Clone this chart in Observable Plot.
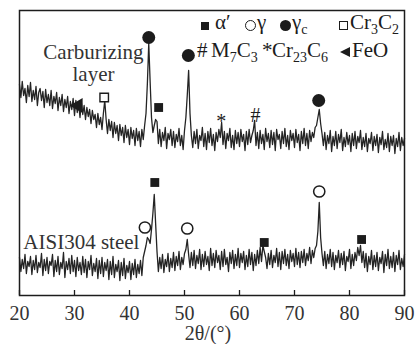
<!DOCTYPE html>
<html><head><meta charset="utf-8">
<script src="https://cdn.jsdelivr.net/npm/d3@7"></script>
<script src="https://cdn.jsdelivr.net/npm/@observablehq/plot@0.6"></script>
<style>
body{margin:0;background:#fff;}
#wrap{position:relative;width:416px;height:344px;font-family:"Liberation Serif","Tinos","Times New Roman","DejaVu Serif","Noto Serif",serif;color:#1c1c1c;}
#wrap svg{display:block;}
#wrap svg text{font-family:"Liberation Serif","Tinos","Times New Roman","DejaVu Serif","Noto Serif",serif;}
.lg{position:absolute;font-size:21px;line-height:21px;white-space:nowrap;}
.lg .s{font-size:14px;position:relative;top:5px;}
.sym{position:absolute;box-sizing:border-box;}
</style></head><body>
<div id="wrap"></div>
<script>
// 2θ grid of the scanned patterns
const thetaStart = 20, thetaStep = 0.25;
// Carburizing layer intensity (a.u.), one value per 0.25° from 20° to 90°
const carburizing = [
211,198,214,200, 207,193,210,199, 213,194,205,196, 209,190,203,207, 195,204,188,206,
193,201,190,205, 187,199,192,203, 185,198,190,201, 184,196,188,199, 182,194,186,197,
180,195,183,192, 178,193,181,190, 176,188,179,186, 172,185,176,181, 168,182,171,178,
166,182,195,176, 162,176,165,174, 158,173,162,170, 155,171,160,168, 153,170,158,166,
151,168,157,165, 150,167,155,164, 149,166,156,170, 182,212,252,214, 178,163,170,176,
174,152,166,149, 163,155,168,147, 162,156,166,150, 164,148,161,154, 167,150,160,146,
165,178,200,225, 182,160,148,164, 152,166,147,160, 155,168,149,162, 146,164,153,167,
150,161,145,163, 154,166,158,173, 151,164,147,162, 155,167,148,160, 146,165,152,163,
149,166,154,161, 145,164,151,166, 153,160,165,175, 150,163,147,165, 152,161,146,167,
154,162,148,165, 151,163,145,166, 156,161,147,164, 152,167,149,160, 146,165,155,162,
148,166,153,161, 145,164,152,167, 150,162,147,165, 154,163,158,168, 170,178,186,172,
162,150,163,146, 160,152,165,144, 159,150,164,147, 161,153,166,145, 158,149,163,151,
160,144,162,150, 164,147,159,153, 165,146,158,149, 162,144,157,152, 163,145,159,150,
161,143,158,151, 164,146,156,148, 162,144,159,150, 160,142,157,149, 163,145,158,150,
157];
// AISI304 steel intensity (a.u.)
const steel = [
38,24,36,27, 41,22,34,29, 39,21,35,26, 40,23,33,28, 42,20,36,25,
38,22,34,30, 41,19,35,24, 39,21,33,27, 43,18,34,26, 37,22,40,24,
35,19,38,25, 33,21,39,23, 36,18,34,26, 40,20,32,24, 37,17,35,22,
38,19,33,25, 36,16,34,21, 39,18,31,24, 35,15,33,20, 37,17,30,23,
34,16,32,21, 36,18,31,22, 35,20,38,44, 50,58,56,52, 66,82,101,72,
44,24,38,27, 41,23,36,29, 42,24,37,28, 43,25,39,30, 44,26,38,31,
42,46,56,41, 28,43,30,45, 27,40,32,46, 26,41,29,44, 31,39,25,47,
30,42,28,45, 33,40,26,44, 29,46,31,38, 24,43,32,45, 27,41,30,47,
28,42,33,44, 26,40,29,46, 31,43,25,41, 30,45,32,48, 34,50,44,38,
27,42,31,45, 28,40,33,47, 29,43,26,44, 32,46,30,41, 27,45,34,42,
29,47,31,43, 28,44,33,46, 30,42,35,48, 32,45,38,47, 50,64,93,58,
42,30,44,27, 41,32,46,29, 43,26,40,33, 45,28,42,31, 44,25,39,34,
46,27,41,30, 43,35,48,40, 50,33,44,28, 42,24,39,31, 45,26,40,29,
43,25,38,32, 44,23,41,30, 46,27,39,28, 43,24,40,31, 45,26,37,29,
41];
// phase markers
const markPhase = ["γc","α′","γc","γc","Cr3C2","FeO","γ","α′","γ","α′","γ","α′"];
const markTheta = [43.5,45.3,50.7,74.4,35.4,30.7,42.8,44.6,50.5,64.5,74.5,82.2];
const markInt   = [258,188,240,195,198,190,68,113,67,53,104,56];
const glyphText  = ["*","#"];
const glyphTheta = [56.7,62.9];
const glyphInt   = [174,180];
// curve labels
const labelText  = ["Carburizing","layer","AISI304 steel"];
const labelTheta = [33.45,33.45,20.7];
const labelInt   = [243.7,221.7,53.7];
const labelAnchor= ["middle","middle","start"];
const xTicks = [20,30,40,50,60,70,80,90];
const xTitle = "2θ/(°)";

const rows = [];
carburizing.forEach((v,i)=>rows.push({t:thetaStart+i*thetaStep, v, s:"carb"}));
steel.forEach((v,i)=>rows.push({t:thetaStart+i*thetaStep, v, s:"steel"}));
const marks = markPhase.map((p,i)=>({p, t:markTheta[i], v:markInt[i]}));
const glyphs = glyphText.map((g,i)=>({g, t:glyphTheta[i], v:glyphInt[i]}));
const labels = labelText.map((s,i)=>({s, t:labelTheta[i], v:labelInt[i], a:labelAnchor[i]}));
const ink = "#1c1c1c";
const serif = "'Liberation Serif', 'Tinos', 'Times New Roman', 'DejaVu Serif', 'Noto Serif', serif";

const chart = Plot.plot({
  width:416, height:344,
  marginTop:10, marginRight:12, marginBottom:49, marginLeft:19,
  style:{fontFamily:serif, fontSize:"20px", color:ink, background:"#fff"},
  x:{domain:[20,90]},
  y:{domain:[0,285], axis:null},
  marks:[
    Plot.line(rows,{x:"t", y:"v", z:"s", stroke:"#242424", strokeWidth:1.3}),
    Plot.dot(marks.filter(d=>d.p==="γc"),{x:"t", y:"v", r:6.5, fill:ink, stroke:"none", symbol:"circle"}),
    Plot.dot(marks.filter(d=>d.p==="γ"),{x:"t", y:"v", r:5.6, fill:"#fff", stroke:ink, strokeWidth:1.5, symbol:"circle"}),
    Plot.dot(marks.filter(d=>d.p==="α′"),{x:"t", y:"v", r:5, fill:ink, stroke:"none", symbol:"square"}),
    Plot.dot(marks.filter(d=>d.p==="Cr3C2"),{x:"t", y:"v", r:4.8, fill:"#fff", stroke:ink, strokeWidth:1.4, symbol:"square"}),
    Plot.dot(marks.filter(d=>d.p==="FeO"),{x:"t", y:"v", r:5.5, fill:ink, stroke:"none", symbol:"triangle", rotate:-90}),
    Plot.text(glyphs,{x:"t", y:"v", text:"g", fontSize:20, fill:ink}),
    Plot.text(labels.filter(d=>d.a==="middle"),{x:"t", y:"v", text:"s", fontSize:21, fill:"#333", textAnchor:"middle"}),
    Plot.text(labels.filter(d=>d.a==="start"),{x:"t", y:"v", text:"s", fontSize:21, fill:"#333", textAnchor:"start"}),
    Plot.ruleX(xTicks,{x:d=>d, y1:0, y2:5, stroke:ink, strokeWidth:1.3}),
    Plot.axisX({ticks:xTicks, tickSize:0, tickPadding:10, label:null, fontSize:20, fill:"#333"}),
    Plot.text([xTitle],{frameAnchor:"bottom", lineAnchor:"middle", dy:38, dx:-4, fontSize:20, fill:"#333"}),
    Plot.frame({stroke:ink, strokeWidth:1.5})
  ]
});
const wrap = document.getElementById("wrap");
wrap.appendChild(chart);

// legend (HTML overlay)
const legendItems = [
  {sym:"fsq", left:201, top:21.5},
  {txt:"α′", left:215, top:12},
  {sym:"ocirc", left:244.5, top:19.5},
  {txt:"γ", left:257, top:12},
  {sym:"fcirc", left:279.5, top:19.5},
  {html:"γ<span class='s'>c</span>", left:292, top:12},
  {sym:"osq", left:338.5, top:21},
  {html:"Cr<span class='s'>3</span>C<span class='s'>2</span>", left:350, top:12},
  {txt:"#", left:197, top:40},
  {html:"M<span class='s'>7</span>C<span class='s'>3</span>", left:211, top:40},
  {txt:"*", left:262, top:40},
  {html:"Cr<span class='s'>23</span>C<span class='s'>6</span>", left:272, top:40},
  {sym:"tri", left:340, top:46.5},
  {txt:"FeO", left:352, top:40}
];
for (const it of legendItems) {
  const el = document.createElement("div");
  if (it.sym) {
    el.className = "sym";
    const st = el.style;
    if (it.sym==="fsq"){st.width="8px";st.height="8px";st.background=ink;}
    if (it.sym==="osq"){st.width="9px";st.height="9px";st.border="1.4px solid "+ink;}
    if (it.sym==="fcirc"){st.width="11px";st.height="11px";st.borderRadius="50%";st.background=ink;}
    if (it.sym==="ocirc"){st.width="11px";st.height="11px";st.borderRadius="50%";st.border="1.6px solid "+ink;}
    if (it.sym==="tri"){st.width="0";st.height="0";st.borderTop="5.5px solid transparent";st.borderBottom="5.5px solid transparent";st.borderRight="10px solid "+ink;}
  } else {
    el.className = "lg";
    if (it.html) el.innerHTML = it.html; else el.textContent = it.txt;
  }
  el.style.left = it.left+"px";
  el.style.top = it.top+"px";
  wrap.appendChild(el);
}
</script>
</body></html>
